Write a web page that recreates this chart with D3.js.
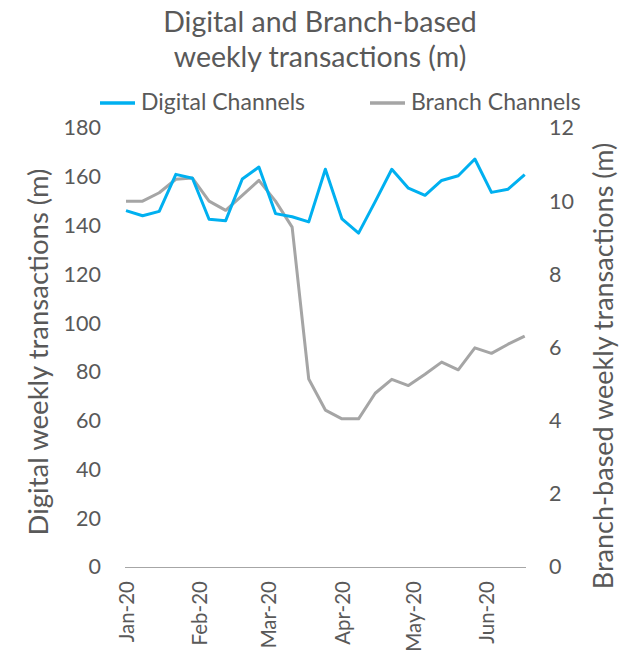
<!DOCTYPE html>
<html>
<head>
<meta charset="utf-8">
<script src="https://cdn.jsdelivr.net/npm/d3@7"></script>
<style>
  html, body { margin: 0; padding: 0; background: #fff; }
  svg text { font-family: Lato, "Open Sans", sans-serif; fill: #595959; }
</style>
</head>
<body>
<svg id="chart" width="636" height="650"></svg>
<script>
// ---- data ----
const startDate = "2020-01-01";
const weekCount = 25;
const digitalValues = [146.1, 144.0, 145.8, 161.0, 159.4, 142.6, 142.0, 159.1, 164.0, 144.9,
                       143.6, 141.5, 163.1, 142.7, 136.9, 149.8, 163.1, 155.3, 152.4, 158.5,
                       160.4, 167.3, 153.6, 154.9, 160.9];
const branchValues = [10.0, 10.0, 10.23, 10.6, 10.63, 10.0, 9.75, 10.16, 10.57, 10.0,
                      9.29, 5.14, 4.29, 4.05, 4.05, 4.75, 5.13, 4.96, 5.27, 5.60,
                      5.39, 5.99, 5.84, 6.09, 6.31];
const leftTicks = [0, 20, 40, 60, 80, 100, 120, 140, 160, 180];
const rightTicks = [0, 2, 4, 6, 8, 10, 12];
const monthTicks = ["2020-01-01", "2020-02-01", "2020-03-01", "2020-04-01", "2020-05-01", "2020-06-01"];
const seriesNames = ["Digital Channels", "Branch Channels"];
const titleLines = ["Digital and Branch-based", "weekly transactions (m)"];
const leftTitle = "Digital weekly transactions (m)";
const rightTitle = "Branch-based weekly transactions (m)";

const parse = d3.timeParse("%Y-%m-%d");
const d0 = parse(startDate);
const dates = d3.range(weekCount).map(i => d3.timeDay.offset(d0, 7 * i));

const svg = d3.select("#chart");
const blue = "#00B0F0", gray = "#A5A5A5";

const x = d3.scaleTime().domain([dates[0], dates[dates.length - 1]]).range([126, 524.7]);
const yL = d3.scaleLinear().domain([0, 180]).range([567, 128]);
const yR = d3.scaleLinear().domain([0, 12]).range([567, 128]);

// title
svg.append("g").selectAll("text").data(titleLines).join("text")
  .attr("x", 320).attr("y", (d, i) => 32 + i * 35)
  .attr("text-anchor", "middle").style("font-size", "28.5px").text(d => d);

// legend
const legend = svg.append("g");
const legendItems = [
  { name: seriesNames[0], color: blue, x1: 100, x2: 135, tx: 141 },
  { name: seriesNames[1], color: gray, x1: 370, x2: 405, tx: 411 }
];
legendItems.forEach(it => {
  legend.append("line").attr("x1", it.x1).attr("x2", it.x2).attr("y1", 103).attr("y2", 103)
    .attr("stroke", it.color).attr("stroke-width", 3.5);
  legend.append("text").attr("x", it.tx).attr("y", 110).style("font-size", "23px").text(it.name);
});

// left axis
const gL = svg.append("g").attr("transform", "translate(101,0)")
  .call(d3.axisLeft(yL).tickValues(leftTicks).tickSize(0).tickPadding(0));
gL.select(".domain").remove();
gL.selectAll("text").style("font-size", "21.5px").attr("fill", "#595959").attr("font-family", null);

// right axis
const gR = svg.append("g").attr("transform", "translate(549,0)")
  .call(d3.axisRight(yR).tickValues(rightTicks).tickSize(0).tickPadding(0));
gR.select(".domain").remove();
gR.selectAll("text").style("font-size", "21.5px").attr("fill", "#595959").attr("font-family", null);

// x axis
const gX = svg.append("g").attr("transform", "translate(0,567)")
  .call(d3.axisBottom(x).tickValues(monthTicks.map(parse)).tickFormat(d3.timeFormat("%b-%y")).tickSize(0));
gX.select(".domain").remove();
svg.append("line").attr("x1", 125).attr("x2", 526).attr("y1", 567.5).attr("y2", 567.5)
  .attr("stroke", "#A6A6A6").attr("stroke-width", 1);
gX.selectAll("text")
  .attr("transform", "rotate(-90)")
  .attr("text-anchor", "end").attr("dy", "0.35em").attr("x", -14).attr("y", 0)
  .style("font-size", "20.5px").attr("fill", "#595959").attr("font-family", null);

// axis titles
svg.append("text").attr("transform", "translate(48,352) rotate(-90)")
  .attr("text-anchor", "middle").style("font-size", "27.5px").text(leftTitle);
svg.append("text").attr("transform", "translate(613,366) rotate(-90)")
  .attr("text-anchor", "middle").style("font-size", "27px").text(rightTitle);

// lines
const lineL = d3.line().x((d, i) => x(dates[i])).y(d => yL(d));
const lineR = d3.line().x((d, i) => x(dates[i])).y(d => yR(d));
svg.append("path").datum(branchValues).attr("d", lineR).attr("fill", "none")
  .attr("stroke", gray).attr("stroke-width", 3).attr("stroke-linejoin", "round");
svg.append("path").datum(digitalValues).attr("d", lineL).attr("fill", "none")
  .attr("stroke", blue).attr("stroke-width", 3).attr("stroke-linejoin", "round");
</script>
</body>
</html>
